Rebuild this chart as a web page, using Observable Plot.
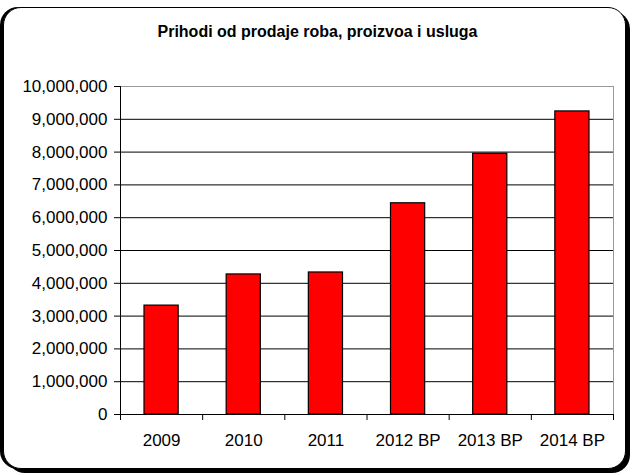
<!DOCTYPE html>
<html>
<head>
<meta charset="utf-8">
<script src="https://cdn.jsdelivr.net/npm/d3@7"></script>
<script src="https://cdn.jsdelivr.net/npm/@observablehq/plot@0.6"></script>
<style>
  html, body { margin: 0; padding: 0; background: #fff; }
  #wrap { position: relative; width: 635px; height: 475px; overflow: hidden; background: #fff; }
  #box { position: absolute; left: 3px; top: 7px; width: 623px; height: 462px; box-sizing: border-box;
         border: 1.5px solid #000; border-radius: 18px; box-shadow: 4px 4px 0 #000, -3px 0 0 #000; background: #fff; }
  #title { position: absolute; left: 0; width: 635px; top: 23px; text-align: center;
           font: bold 16px "Liberation Sans", Arial, sans-serif; color: #000; }
  #chart { position: absolute; left: 0; top: 0; }
</style>
</head>
<body>
<div id="wrap">
  <div id="box"></div>
  <div id="title">Prihodi od prodaje roba, proizvoa i usluga</div>
  <div id="chart"></div>
</div>
<script>
const categories = ["2009", "2010", "2011", "2012 BP", "2013 BP", "2014 BP"];
const values = [3320000, 4270000, 4330000, 6440000, 7950000, 9240000];
const yTicks = [0, 1000000, 2000000, 3000000, 4000000, 5000000, 6000000, 7000000, 8000000, 9000000, 10000000];

const rows = categories.map((c, i) => ({cat: c, i, value: values[i]}));
const fmt = d3.format(",");

const chart = Plot.plot({
  width: 635,
  height: 475,
  marginLeft: 120,
  marginRight: 22,
  marginTop: 86,
  marginBottom: 61,
  style: { fontFamily: "'Liberation Sans', Arial, sans-serif", fontSize: "17px", background: "transparent", color: "#000", overflow: "visible" },
  x: { domain: [0, categories.length], label: null },
  y: { domain: [0, 10000000], label: null },
  marks: [
    Plot.gridY(yTicks.slice(1, -1), { stroke: "#000", strokeOpacity: 1 }),
    Plot.frame({ stroke: "#999" }),
    Plot.rectY(rows, { x1: "i", x2: d => d.i + 1, y: "value", fill: "#ff0000", stroke: "#000", strokeWidth: 1.2, insetLeft: 24, insetRight: 24 }),
    Plot.ruleX([0], { stroke: "#000" }),
    Plot.ruleY([0], { stroke: "#000" }),
    Plot.axisY({ ticks: yTicks, tickFormat: fmt, tickSize: 6, tickPadding: 7, fontSize: 17, label: null }),
    Plot.axisX({ ticks: d3.range(categories.length + 1), tickFormat: () => "", tickSize: 6, label: null }),
    Plot.axisX({ ticks: d3.range(categories.length).map(i => i + 0.5), tickFormat: t => categories[Math.floor(t)], tickSize: 0, tickPadding: 19, fontSize: 17, label: null })
  ]
});
document.getElementById("chart").appendChild(chart);
</script>
</body>
</html>
